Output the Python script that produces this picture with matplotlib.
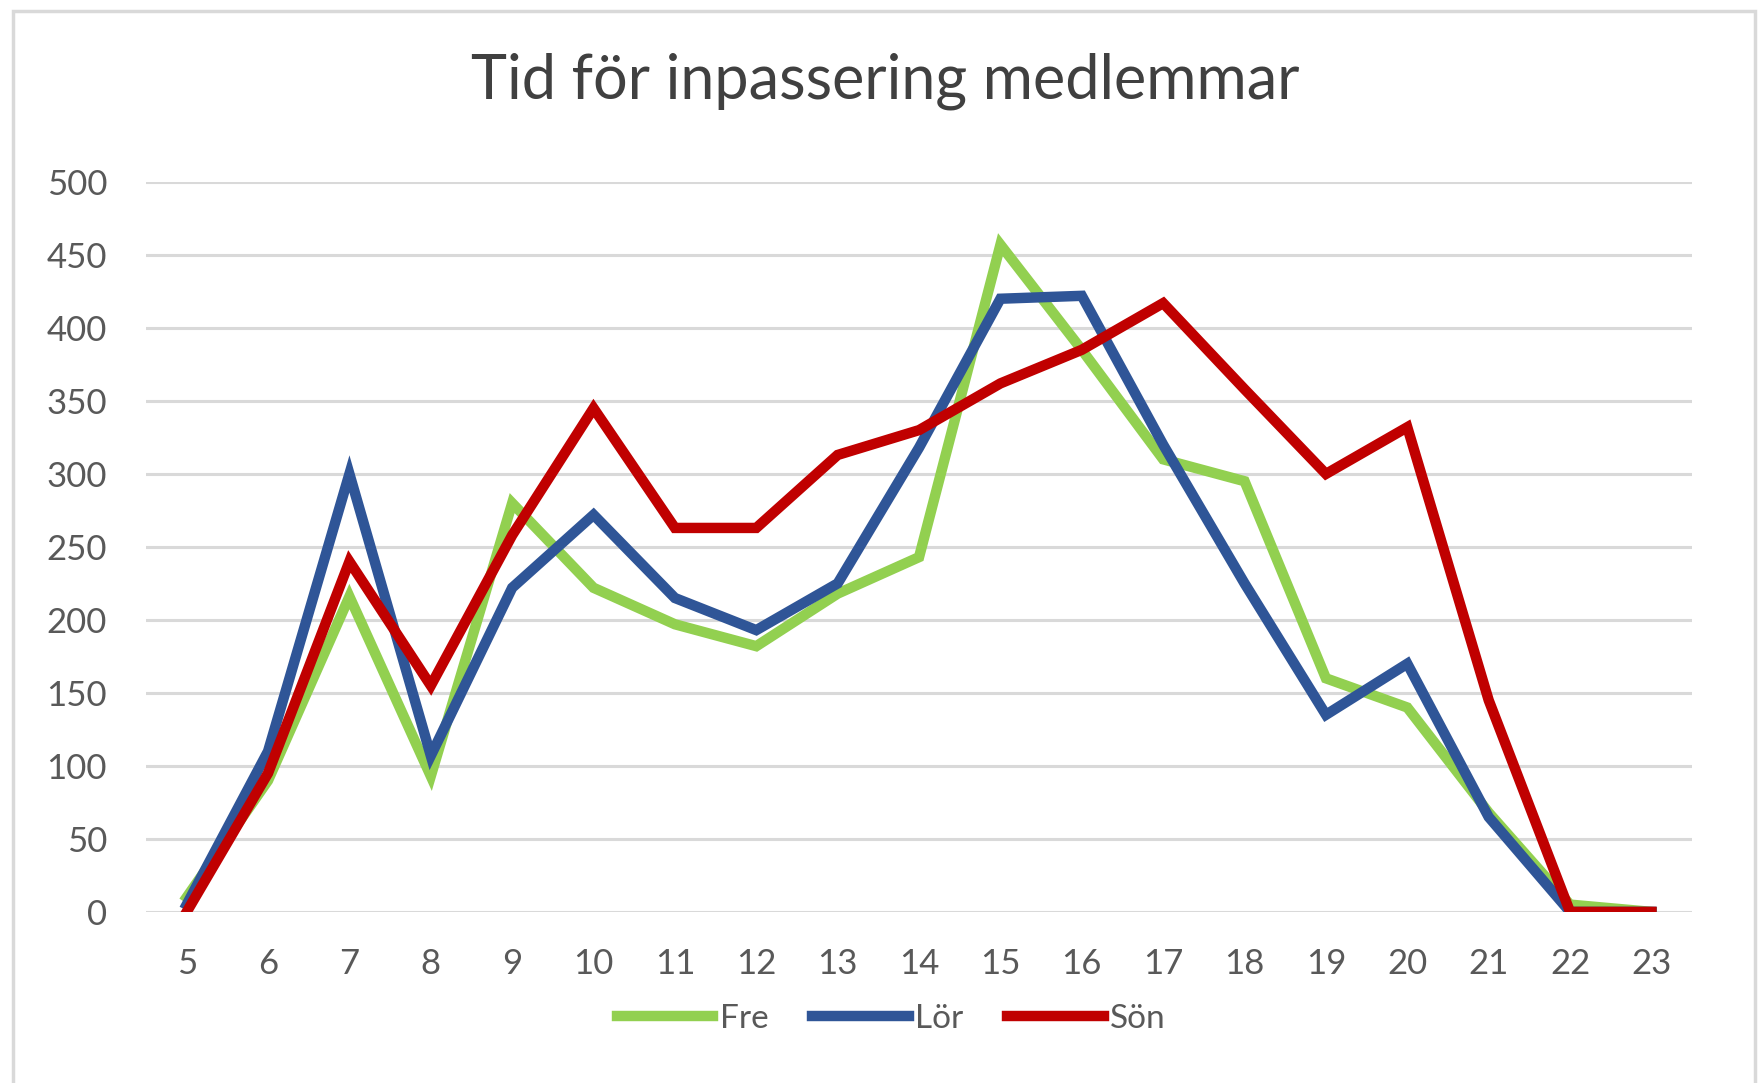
import matplotlib
matplotlib.use('Agg')
import matplotlib.pyplot as plt
from matplotlib.patches import Rectangle

# timmar och antal inpasseringar per dag
hours = list(range(5, 24))
fre = [10, 90, 216, 93, 280, 222, 197, 182, 218, 243, 457, 385, 310, 295, 160, 140, 68, 5, 0]
lor = [5, 110, 300, 107, 222, 272, 215, 193, 225, 318, 420, 422, 320, 225, 135, 170, 65, 0, 0]
son = [0, 95, 240, 155, 258, 345, 263, 263, 313, 330, 362, 385, 417, 358, 300, 332, 145, 0, 0]
yticks = [0, 50, 100, 150, 200, 250, 300, 350, 400, 450, 500]

plt.rcParams['font.family'] = ['Lato', 'DejaVu Sans']

fig = plt.figure(figsize=(17.63, 10.83), dpi=100)
ax = fig.add_axes([0.0828, 0.158, 0.877, 0.674])

# ram runt diagrammet
fig.patches.append(Rectangle((0.0075, -0.05), 0.988, 1.04, transform=fig.transFigure,
                             fill=False, edgecolor='#d9d9d9', lw=2.5))

ax.plot(hours, fre, color='#92D050', lw=7.5, label='Fre', solid_joinstyle='miter')
ax.plot(hours, lor, color='#2F5597', lw=7.5, label='Lör', solid_joinstyle='miter')
ax.plot(hours, son, color='#C00000', lw=7.5, label='Sön', solid_joinstyle='miter')

ax.set_xlim(4.5, 23.5)
ax.set_ylim(0, 500)
ax.set_xticks(hours)
ax.set_yticks(yticks)
ax.yaxis.grid(True, color='#d9d9d9', lw=2.2)
ax.set_axisbelow(True)
for s in ax.spines.values():
    s.set_visible(False)
ax.tick_params(axis='both', length=0, labelsize=25, labelcolor='#595959')
ax.tick_params(axis='x', pad=26)
ax.tick_params(axis='y', pad=28)

# titeln är centrerad på hela diagrammet, inte på ritytan
ax.set_title('Tid för inpassering medlemmar', fontsize=44, color='#404040', pad=60, x=0.478)

ax.legend(loc='upper center', bbox_to_anchor=(0.482, -0.085), ncol=3, frameon=False,
          fontsize=24, labelcolor='#595959', handlelength=2.9, handletextpad=0.2,
          columnspacing=1.3)

plt.savefig('out.png', dpi=100)
